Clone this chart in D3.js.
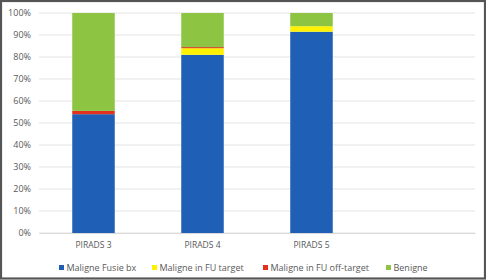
<!DOCTYPE html>
<html><head><meta charset="utf-8">
<script src="https://cdn.jsdelivr.net/npm/d3@7"></script>
<style>body{margin:0;background:#fff}svg{display:block}</style>
</head><body>
<svg id="c" width="486" height="280"></svg>
<script>
const categories = ["PIRADS 3", "PIRADS 4", "PIRADS 5", ""];
const seriesNames = ["Maligne Fusie bx", "Maligne in FU target", "Maligne in FU off-target", "Benigne"];
const malFusie = [54, 81, 91.5, 0];
const malFUtarget = [0, 3, 2.5, 0];
const malFUoff = [1.5, 0.5, 0, 0];
const benigne = [44.5, 15.5, 6, 0];
const yTicks = [0,10,20,30,40,50,60,70,80,90,100];
const colors = ["#1f5fb5", "#fff200", "#e2321e", "#8dc441"];

(function(){
const svg = d3.select("#c");
svg.append("rect").attr("x",1).attr("y",1).attr("width",484).attr("height",277.5)
  .attr("fill","#fff").attr("stroke","#555").attr("stroke-width",2.2);

const mL = 39, mR = 475, mT = 13, mB = 233;
const x = d3.scaleBand().domain(categories).range([mL,mR]).paddingInner(0.61).paddingOuter(0.305);
const y = d3.scaleLinear().domain([0,100]).range([mB,mT]);

svg.append("g").selectAll("line").data(yTicks).join("line")
  .attr("x1",mL).attr("x2",mR).attr("y1",d=>y(d)).attr("y2",d=>y(d))
  .attr("stroke","#e3e3e3").attr("stroke-width",1);

const yAxis = d3.axisLeft(y).tickValues(yTicks).tickFormat(d=>d+"%").tickSize(0).tickPadding(8);
const ya = svg.append("g").attr("transform",`translate(${mL},0)`).call(yAxis);
ya.select(".domain").remove();
ya.selectAll("text").attr("fill","#595959").style("font-family","Open Sans, sans-serif").style("font-size","9px");

const rows = categories.map((c,i)=>({cat:c, v:[malFusie[i], malFUtarget[i], malFUoff[i], benigne[i]]}));
const stack = d3.stack().keys([0,1,2,3]).value((d,k)=>d.v[k]);
const layers = stack(rows);
svg.append("g").selectAll("g").data(layers).join("g").attr("fill",(d,i)=>colors[i])
  .selectAll("rect").data(d=>d).join("rect")
  .attr("x",d=>x(d.data.cat)).attr("width",x.bandwidth())
  .attr("y",d=>y(d[1])).attr("height",d=>y(d[0])-y(d[1]));

const xAxis = d3.axisBottom(x).tickSize(0).tickPadding(9);
const xa = svg.append("g").attr("transform",`translate(0,${mB})`).call(xAxis);
xa.select(".domain").attr("stroke","#d9d9d9");
xa.selectAll("text").attr("fill","#595959").style("font-family","Open Sans, sans-serif").style("font-size","8.5px");

const legX = [59, 152, 263, 386];
const leg = svg.append("g").selectAll("g").data(seriesNames).join("g")
  .attr("transform",(d,i)=>`translate(${legX[i]},268)`);
leg.append("rect").attr("x",0).attr("y",-3).attr("width",5).attr("height",5).attr("fill",(d,i)=>colors[i]);
leg.append("text").attr("x",7.5).attr("y",0).attr("dy","0.35em").text(d=>d)
  .attr("fill","#595959").style("font-family","Open Sans, sans-serif").style("font-size","9px");
})();
</script>
</body></html>
